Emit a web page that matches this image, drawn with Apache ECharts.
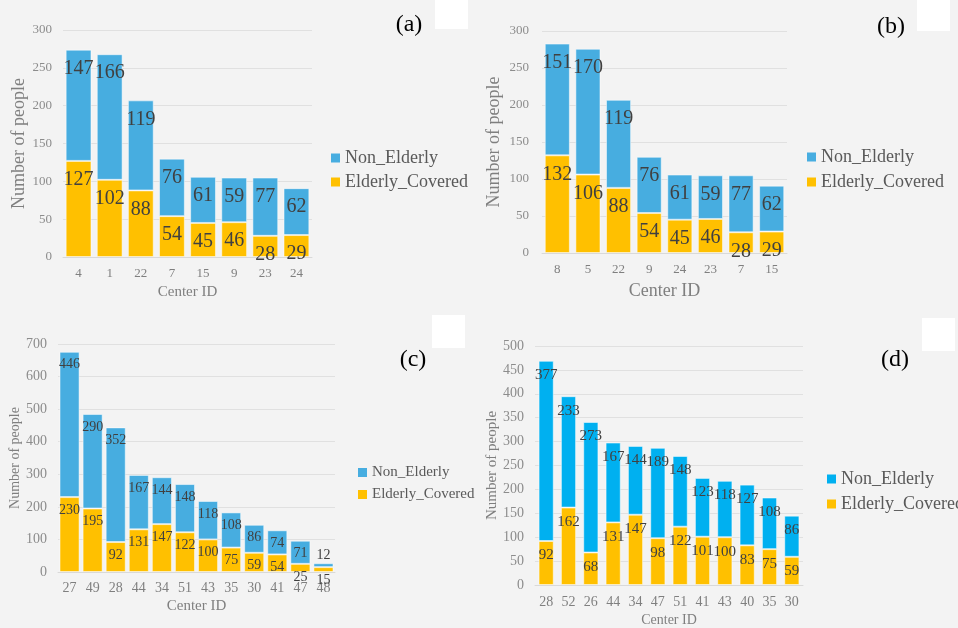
<!DOCTYPE html>
<html><head><meta charset="utf-8">
<script src="https://cdn.jsdelivr.net/npm/echarts@6/dist/echarts.min.js"></script>
<style>html,body{margin:0;padding:0;background:#f3f3f3;}#c{width:958px;height:628px;}</style>
</head><body><div id="c"></div>
<script>
// Panel (a)
const catsA = ['4','1','22','7','15','9','23','24'];
const elderA = [127,102,88,54,45,46,28,29];
const nonA = [147,166,119,76,61,59,77,62];
// Panel (b)
const catsB = ['8','5','22','9','24','23','7','15'];
const elderB = [132,106,88,54,45,46,28,29];
const nonB = [151,170,119,76,61,59,77,62];
// Panel (c)
const catsC = ['27','49','28','44','34','51','43','35','30','41','47','48'];
const elderC = [230,195,92,131,147,122,100,75,59,54,25,15];
const nonC = [446,290,352,167,144,148,118,108,86,74,71,12];
// Panel (d)
const catsD = ['28','52','26','44','34','47','51','41','43','40','35','30'];
const elderD = [92,162,68,131,147,98,122,101,100,83,75,59];
const nonD = [377,233,273,167,144,189,148,123,118,127,108,86];
const panelTags = ['(a)','(b)','(c)','(d)'];

const FONT = "'Liberation Serif','Times New Roman',serif";
const YEL = '#ffc000', BLUE1 = '#47ade0', BLUE2 = '#00b0f0';

const panels = [
  {cats:catsA, el:elderA, non:nonA, blue:BLUE1, grid:{left:63,top:30,width:249,height:227}, max:300, iv:50,
   lf:20, ld:9, bw:'17%', yn:18, yg:35, xn:15, xg:28, ax:13, xm:10, ym:11,
   lg:{left:326,top:144,gap:6,fs:18}},
  {cats:catsB, el:elderB, non:nonB, blue:BLUE1, grid:{left:542,top:31,width:245,height:222}, max:300, iv:50,
   lf:20, ld:9, bw:'18%', yn:18, yg:39, xn:18, xg:29, ax:13, xm:10, ym:13,
   lg:{left:802,top:143,gap:7,fs:18}},
  {cats:catsC, el:elderC, non:nonC, blue:BLUE1, grid:{left:58,top:344,width:277,height:228}, max:700, iv:100,
   lf:14, ld:6, bw:'13%', yn:14, yg:35, xn:15, xg:27, ax:14, xm:9, ym:11,
   lg:{left:353,top:460,gap:7,fs:15}},
  {cats:catsD, el:elderD, non:nonD, blue:BLUE2, grid:{left:535,top:346,width:268,height:240}, max:500, iv:50,
   lf:15, ld:7, bw:'32%', yn:15, yg:35, xn:14, xg:28, ax:14, xm:10, ym:11,
   lg:{left:822,top:465,gap:7,fs:18}}
];

const grid=[], xAxis=[], yAxis=[], series=[], legend=[];
panels.forEach((p,i)=>{
  grid.push(Object.assign({containLabel:false}, p.grid));
  xAxis.push({type:'category', gridIndex:i, data:p.cats,
    name:'Center ID', nameLocation:'middle', nameGap:p.xg,
    nameTextStyle:{fontFamily:FONT, fontSize:p.xn, color:'#7f7f7f'},
    axisTick:{show:false}, axisLine:{lineStyle:{color:'#d9d9d9'}},
    axisLabel:{fontFamily:FONT, fontSize:p.ax, color:'#7f7f7f', margin:p.xm, interval:0}});
  yAxis.push({type:'value', gridIndex:i, min:0, max:p.max, interval:p.iv,
    name:'Number of people', nameLocation:'middle', nameGap:p.yg,
    nameTextStyle:{fontFamily:FONT, fontSize:p.yn, color:'#7f7f7f'},
    axisLine:{show:false}, axisTick:{show:false},
    splitLine:{lineStyle:{color:'#e0e0e0'}},
    axisLabel:{fontFamily:FONT, fontSize:p.ax, color:'#8c8c8c', margin:p.ym}});
  const lbl = {show:true, position:'insideTop', distance:p.ld, fontFamily:FONT, fontSize:p.lf, color:'#404040'};
  series.push({type:'bar', name:'Elderly_Covered', xAxisIndex:i, yAxisIndex:i, stack:'s'+i,
    data:p.el, barCategoryGap:p.bw, itemStyle:{color:YEL, borderColor:'rgba(255,255,255,0.5)', borderWidth:1},
    label:lbl});
  const nonData = p.non.map((v,j)=> (i===2 && j===p.non.length-1) ? {value:v, label:{position:'top', distance:1}} : v);
  series.push({type:'bar', name:'Non_Elderly', xAxisIndex:i, yAxisIndex:i, stack:'s'+i,
    data:nonData, barCategoryGap:p.bw, itemStyle:{color:p.blue, borderColor:'rgba(255,255,255,0.5)', borderWidth:1},
    label:lbl});
  legend.push({orient:'vertical', left:p.lg.left, top:p.lg.top, itemGap:p.lg.gap,
    icon:'rect', itemWidth:9, itemHeight:9, selectedMode:false,
    textStyle:{fontFamily:FONT, fontSize:p.lg.fs, color:'#595959'},
    data:[{name:'Non_Elderly', itemStyle:{color:p.blue, borderWidth:0}},
          {name:'Elderly_Covered', itemStyle:{color:YEL, borderWidth:0}}]});
});

const tagPos = [[409,25],[891,27],[413,360],[895,360]];
const rects = [[435,0,33,29],[917,0,33,31],[432,315,33,33],[922,318,33,33]];
const graphic = [];
rects.forEach(r=>graphic.push({type:'rect', shape:{x:r[0],y:r[1],width:r[2],height:r[3]}, style:{fill:'#ffffff'}, silent:true}));
panelTags.forEach((t,i)=>graphic.push({type:'text', x:tagPos[i][0], y:tagPos[i][1],
  style:{text:t, fontFamily:FONT, fontSize:24, fill:'#000', align:'center', verticalAlign:'middle'}}));

const chart = echarts.init(document.getElementById('c'));
chart.setOption({backgroundColor:'#f3f3f3', animation:false, grid, xAxis, yAxis, series, legend, graphic});
</script></body></html>
